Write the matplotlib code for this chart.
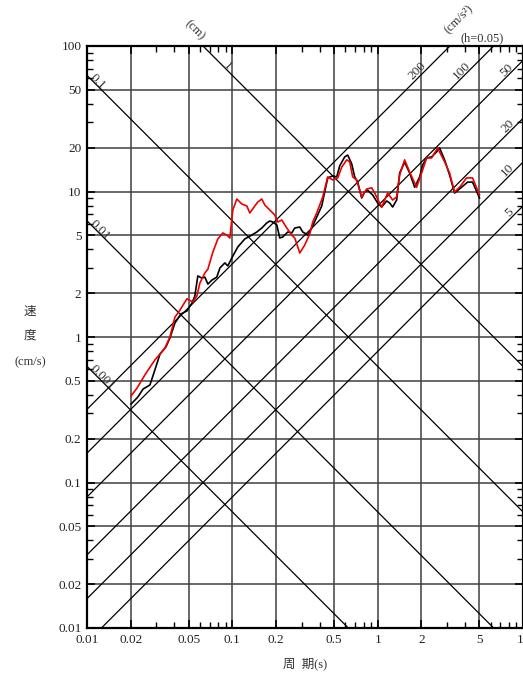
import matplotlib
matplotlib.use('Agg')
import matplotlib.pyplot as plt
import numpy as np
from matplotlib.ticker import FixedLocator, NullFormatter

plt.rcParams['font.family'] = ['Liberation Serif', 'Noto Sans CJK JP', 'DejaVu Sans']

# black spectrum: period (s), velocity (cm/s)
t_black = [0.0201, 0.0224, 0.0243, 0.0271, 0.0293, 0.0318, 0.0349, 0.0372, 0.0403, 0.0443,
           0.0487, 0.0527, 0.0552, 0.0579, 0.0617, 0.0647, 0.0679, 0.0723, 0.0782, 0.0821,
           0.0888, 0.0931, 0.1008, 0.1091, 0.1219, 0.1361, 0.1474, 0.1595, 0.1726, 0.1810,
           0.1898, 0.2023, 0.2121, 0.2224, 0.2407, 0.2564, 0.2689, 0.2911, 0.3052, 0.3303,
           0.3519, 0.3809, 0.4121, 0.4533, 0.4906, 0.5227, 0.5481, 0.5933, 0.6221, 0.6627,
           0.6950, 0.7287, 0.7762, 0.8141, 0.8537, 0.9240, 1.000, 1.065, 1.153, 1.209,
           1.268, 1.351, 1.417, 1.533, 1.660, 1.797, 1.945, 2.039, 2.172, 2.350,
           2.544, 2.668, 2.888, 3.125, 3.383, 3.778, 4.155, 4.497, 5.023]
sv_black = [0.346, 0.387, 0.439, 0.468, 0.593, 0.764, 0.854, 0.984, 1.25, 1.44,
            1.51, 1.71, 1.91, 2.63, 2.54, 2.58, 2.31, 2.46, 2.58, 2.98,
            3.23, 3.08, 3.60, 4.16, 4.72, 5.02, 5.27, 5.61, 6.08, 6.27,
            6.17, 5.89, 4.79, 4.87, 5.27, 5.19, 5.61, 5.70, 5.27, 5.02,
            5.61, 6.68, 7.95, 12.4, 12.8, 12.6, 15.0, 17.3, 17.8, 15.5,
            12.6, 11.6, 9.02, 9.92, 10.2, 9.46, 8.34, 7.82, 8.61, 8.34,
            7.82, 8.74, 13.4, 15.9, 13.4, 10.7, 12.6, 15.2, 17.0, 17.3,
            18.7, 19.9, 16.5, 13.0, 9.76, 10.7, 11.6, 11.6, 9.02]

# red spectrum
t_red = [0.0201, 0.0221, 0.0250, 0.0293, 0.0344, 0.0372, 0.0403, 0.0436, 0.0487, 0.0535,
         0.0570, 0.0598, 0.0647, 0.0679, 0.0735, 0.0795, 0.0860, 0.0917, 0.0961, 0.1008,
         0.1074, 0.1162, 0.1258, 0.1319, 0.1428, 0.1497, 0.1595, 0.1672, 0.1810, 0.1960,
         0.2054, 0.2189, 0.2369, 0.2564, 0.2689, 0.2911, 0.3150, 0.3409, 0.3575, 0.3809,
         0.4188, 0.4533, 0.4906, 0.5311, 0.5656, 0.6124, 0.6421, 0.6732, 0.7173, 0.7762,
         0.8404, 0.9095, 0.9537, 1.065, 1.171, 1.268, 1.351, 1.417, 1.533, 1.660,
         1.854, 2.006, 2.172, 2.350, 2.585, 2.888, 3.125, 3.383, 3.661, 4.089,
         4.497, 5.023]
sv_red = [0.393, 0.446, 0.548, 0.695, 0.840, 1.00, 1.37, 1.53, 1.83, 1.74,
          1.91, 2.35, 2.75, 2.93, 3.84, 4.72, 5.19, 5.02, 4.79, 7.46,
          8.88, 8.21, 7.95, 7.12, 7.95, 8.47, 8.88, 8.08, 7.46, 6.89,
          6.17, 6.37, 5.61, 5.02, 4.79, 3.78, 4.29, 5.10, 6.17, 7.12,
          9.17, 12.6, 12.0, 12.4, 14.7, 16.5, 16.0, 12.6, 12.0, 9.17,
          10.4, 10.6, 9.76, 7.82, 9.76, 8.74, 9.17, 13.0, 16.5, 13.6,
          10.7, 13.4, 17.0, 17.0, 19.9, 16.0, 13.4, 9.92, 10.7, 12.4,
          12.4, 9.46]

disp_levels = [0.001, 0.01, 0.1, 1]          # cm
disp_labels = ['0.001', '0.01', '0.1', '1']
disp_label_t = [0.0127, 0.0123, 0.0119, 0.093]
acc_levels = [200, 100, 50, 20, 10, 5]       # cm/s^2
acc_labels = ['200', '100', '50', '20', '10', '5']
acc_label_t = [1.88, 3.78, 7.70, 7.94, 7.82, 8.1]

x_ticks = [0.01, 0.02, 0.05, 0.1, 0.2, 0.5, 1, 2, 5, 10]
x_ticklabels = ['0.01', '0.02', '0.05', '0.1', '0.2', '0.5', '1', '2', '5', '10']
y_ticks = [0.01, 0.02, 0.05, 0.1, 0.2, 0.5, 1, 2, 5, 10, 20, 50, 100]
y_ticklabels = ['0.01', '0.02', '0.05', '0.1', '0.2', '0.5', '1', '2', '5', '10', '20', '50', '100']
minor = [m * 10.0 ** e for e in range(-3, 3) for m in (3, 4, 6, 7, 8, 9)]

W, H = 523, 673
fig = plt.figure(figsize=(W / 100, H / 100), dpi=100)
ax = fig.add_axes([87 / W, 45 / H, 436 / W, 582 / H])
ax.set_xscale('log')
ax.set_yscale('log')
ax.set_xlim(0.01, 10)
ax.set_ylim(0.01, 100)

# grid
for v in x_ticks[1:-1]:
    ax.axvline(v, color='#404040', lw=1.1, zorder=1)
for v in y_ticks[1:-1]:
    ax.axhline(v, color='#404040', lw=1.1, zorder=1)

# tripartite lines
tt = np.array([1e-3, 100.0])
for d in disp_levels:
    ax.plot(tt, 2 * np.pi * d / tt, color='black', lw=0.9, zorder=2)
for a in acc_levels:
    ax.plot(tt, a * tt / (2 * np.pi), color='black', lw=0.9, zorder=2)

for d, lab, t in zip(disp_levels, disp_labels, disp_label_t):
    ax.text(t, 2 * np.pi * d / t * 1.07, lab, rotation=-45, fontsize=9.5,
            ha='center', va='center', color='#333333', zorder=3)
for a, lab, t in zip(acc_levels, acc_labels, acc_label_t):
    ax.text(t, a * t / (2 * np.pi) * 1.12, lab, rotation=45, fontsize=9.5,
            ha='center', va='center', color='#333333', zorder=3)

ax.text(0.0552, 129, '(cm)', rotation=-45, fontsize=9, ha='center', va='center',
        color='#333333', clip_on=False)
ax.text(3.6, 152, '(cm/s²)', rotation=45, fontsize=9, ha='center', va='center',
        color='#333333', clip_on=False)
ax.text(5.27, 113, '(h=0.05)', fontsize=9, ha='center', va='center',
        color='#333333', clip_on=False)

# spectra
ax.plot(t_black, sv_black, color='black', lw=1.2, zorder=4)
ax.plot(t_red, sv_red, color='#ee0000', lw=1.2, zorder=5)

ax.xaxis.set_major_locator(FixedLocator(x_ticks))
ax.yaxis.set_major_locator(FixedLocator(y_ticks))
ax.set_xticklabels(x_ticklabels)
ax.set_yticklabels(y_ticklabels)
ax.xaxis.set_minor_locator(FixedLocator(minor))
ax.yaxis.set_minor_locator(FixedLocator(minor))
ax.xaxis.set_minor_formatter(NullFormatter())
ax.yaxis.set_minor_formatter(NullFormatter())
ax.tick_params(which='both', direction='in', top=True, right=True, labelsize=9.5,
               colors='black', labelcolor='#222222')
ax.tick_params(which='major', length=6, width=1.2, pad=4)
ax.tick_params(which='minor', length=4, width=1.0)
for s in ax.spines.values():
    s.set_linewidth(1.6)

fig.text(30 / W, 1 - 312 / H, '速', fontsize=9, ha='center', va='center', color='#333333')
fig.text(30 / W, 1 - 336 / H, '度', fontsize=9, ha='center', va='center', color='#333333')
fig.text(30 / W, 1 - 362 / H, '(cm/s)', fontsize=9, ha='center', va='center', color='#333333')
fig.text(305 / W, 1 - 664 / H, '周  期(s)', fontsize=9, ha='center', va='center', color='#333333')

fig.savefig('out.png', dpi=100)
